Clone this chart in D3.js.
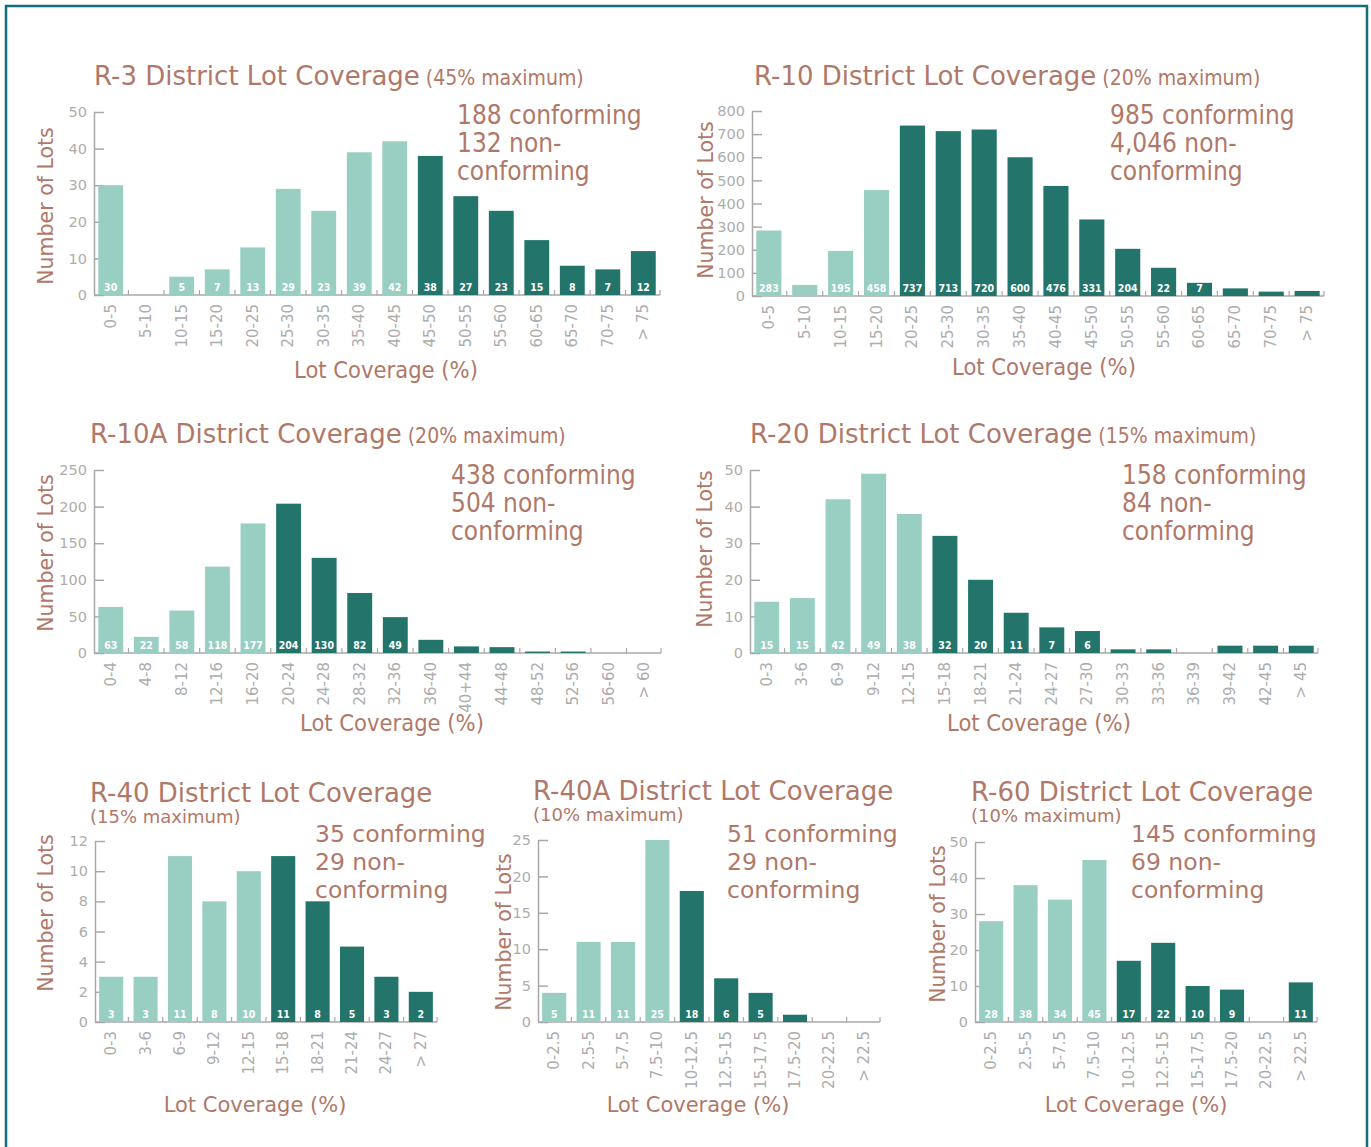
<!DOCTYPE html>
<html>
<head>
<meta charset="utf-8">
<script src="https://cdn.jsdelivr.net/npm/d3@7"></script>
<style>
    body { margin: 0; background: #ffffff; }
    svg { display: block; }
</style>
</head>
<body>
<div id="chart"></div>
<script>
// Kategorier, antal grunde og de små tal i søjlerne
const r3Cats = ["0-5", "5-10", "10-15", "15-20", "20-25", "25-30", "30-35", "35-40", "40-45", "45-50", "50-55", "55-60", "60-65", "65-70", "70-75", "> 75"];
const r3Counts = [30, 0, 5, 7, 13, 29, 23, 39, 42, 38, 27, 23, 15, 8, 7, 12];
const r3Labels = ["30", null, "5", "7", "13", "29", "23", "39", "42", "38", "27", "23", "15", "8", "7", "12"];
const r3Note = ["188 conforming", "132 non-", "conforming"];

const r10Cats = ["0-5", "5-10", "10-15", "15-20", "20-25", "25-30", "30-35", "35-40", "40-45", "45-50", "50-55", "55-60", "60-65", "65-70", "70-75", "> 75"];
const r10Counts = [283, 48, 195, 458, 737, 713, 720, 600, 476, 331, 204, 122, 57, 33, 19, 22];
const r10Labels = ["283", null, "195", "458", "737", "713", "720", "600", "476", "331", "204", "22", "7", null, null, null];
const r10Note = ["985 conforming", "4,046 non-", "conforming"];

const r10aCats = ["0-4", "4-8", "8-12", "12-16", "16-20", "20-24", "24-28", "28-32", "32-36", "36-40", "40+44", "44-48", "48-52", "52-56", "56-60", "> 60"];
const r10aCounts = [63, 22, 58, 118, 177, 204, 130, 82, 49, 18, 9, 8, 2, 2, 0, 0];
const r10aLabels = ["63", "22", "58", "118", "177", "204", "130", "82", "49", null, null, null, null, null, null, null];
const r10aNote = ["438 conforming", "504 non-", "conforming"];

const r20Cats = ["0-3", "3-6", "6-9", "9-12", "12-15", "15-18", "18-21", "21-24", "24-27", "27-30", "30-33", "33-36", "36-39", "39-42", "42-45", "> 45"];
const r20Counts = [14, 15, 42, 49, 38, 32, 20, 11, 7, 6, 1, 1, 0, 2, 2, 2];
const r20Labels = ["15", "15", "42", "49", "38", "32", "20", "11", "7", "6", null, null, null, null, null, null];
const r20Note = ["158 conforming", "84 non-", "conforming"];

const r40Cats = ["0-3", "3-6", "6-9", "9-12", "12-15", "15-18", "18-21", "21-24", "24-27", "> 27"];
const r40Counts = [3, 3, 11, 8, 10, 11, 8, 5, 3, 2];
const r40Labels = ["3", "3", "11", "8", "10", "11", "8", "5", "3", "2"];
const r40Note = ["35 conforming", "29 non-", "conforming"];

const r40aCats = ["0-2.5", "2.5-5", "5-7.5", "7.5-10", "10-12.5", "12.5-15", "15-17.5", "17.5-20", "20-22.5", "> 22.5"];
const r40aCounts = [4, 11, 11, 25, 18, 6, 4, 1, 0, 0];
const r40aLabels = ["5", "11", "11", "25", "18", "6", "5", null, null, null];
const r40aNote = ["51 conforming", "29 non-", "conforming"];

const r60Cats = ["0-2.5", "2.5-5", "5-7.5", "7.5-10", "10-12.5", "12.5-15", "15-17.5", "17.5-20", "20-22.5", "> 22.5"];
const r60Counts = [28, 38, 34, 45, 17, 22, 10, 9, 0, 11];
const r60Labels = ["28", "38", "34", "45", "17", "22", "10", "9", null, "11"];
const r60Note = ["145 conforming", "69 non-", "conforming"];

// Farver og skrifttyper
const titleColor = "#b07868";
const lightBar = "#99cfc2";
const darkBar = "#23756b";
const axisGray = "#a8a8a8";
const tickGray = "#adadad";
const regular = "'DejaVu Sans', Verdana, sans-serif";
const cond = "'DejaVu Sans Condensed', 'DejaVu Sans', sans-serif";

const svg = d3.select("#chart")
    .append("svg")
    .attr("width", 1371)
    .attr("height", 1147);

// ramme rundt om det hele
svg.append("rect")
    .attr("x", 6)
    .attr("y", 6)
    .attr("width", 1361)
    .attr("height", 1170)
    .attr("fill", "none")
    .attr("stroke", "#136d7a")
    .attr("stroke-width", 2.5);

const panels = [
    { title: "R-3 District Lot Coverage", sub: "(45% maximum)", maxPct: 45, cats: r3Cats, counts: r3Counts, labels: r3Labels, note: r3Note,
      left: 94, right: 660, top: 112, bottom: 295, yMax: 50, yStep: 10, titleX: 94, titleY: 85, twoLine: false,
      noteX: 457, noteY: 124, xTitleX: 386, xTitleY: 378, yTitleX: 46, yTitleY: 206, top4: true },
    { title: "R-10 District Lot Coverage", sub: "(20% maximum)", maxPct: 20, cats: r10Cats, counts: r10Counts, labels: r10Labels, note: r10Note,
      left: 752, right: 1324, top: 111, bottom: 296, yMax: 800, yStep: 100, titleX: 754, titleY: 85, twoLine: false,
      noteX: 1110, noteY: 124, xTitleX: 1044, xTitleY: 375, yTitleX: 706, yTitleY: 200, top4: true },
    { title: "R-10A District Coverage", sub: "(20% maximum)", maxPct: 20, cats: r10aCats, counts: r10aCounts, labels: r10aLabels, note: r10aNote,
      left: 94, right: 661, top: 470, bottom: 653, yMax: 250, yStep: 50, titleX: 90, titleY: 443, twoLine: false,
      noteX: 451, noteY: 484, xTitleX: 392, xTitleY: 731, yTitleX: 46, yTitleY: 553, top4: true },
    { title: "R-20 District Lot Coverage", sub: "(15% maximum)", maxPct: 15, cats: r20Cats, counts: r20Counts, labels: r20Labels, note: r20Note,
      left: 750, right: 1318, top: 470, bottom: 653, yMax: 50, yStep: 10, titleX: 750, titleY: 443, twoLine: false,
      noteX: 1122, noteY: 484, xTitleX: 1039, xTitleY: 731, yTitleX: 705, yTitleY: 549, top4: true },
    { title: "R-40 District Lot Coverage", sub: "(15% maximum)", maxPct: 15, cats: r40Cats, counts: r40Counts, labels: r40Labels, note: r40Note,
      left: 95, right: 437, top: 841, bottom: 1022, yMax: 12, yStep: 2, titleX: 90, titleY: 802, twoLine: true,
      noteX: 315, noteY: 842, xTitleX: 255, xTitleY: 1112, yTitleX: 46, yTitleY: 913, top4: false },
    { title: "R-40A District Lot Coverage", sub: "(10% maximum)", maxPct: 10, cats: r40aCats, counts: r40aCounts, labels: r40aLabels, note: r40aNote,
      left: 538, right: 880, top: 840, bottom: 1022, yMax: 25, yStep: 5, titleX: 533, titleY: 800, twoLine: true,
      noteX: 727, noteY: 842, xTitleX: 698, xTitleY: 1112, yTitleX: 504, yTitleY: 932, top4: false },
    { title: "R-60 District Lot Coverage", sub: "(10% maximum)", maxPct: 10, cats: r60Cats, counts: r60Counts, labels: r60Labels, note: r60Note,
      left: 975, right: 1317, top: 842, bottom: 1022, yMax: 50, yStep: 10, titleX: 971, titleY: 801, twoLine: true,
      noteX: 1131, noteY: 842, xTitleX: 1136, xTitleY: 1112, yTitleX: 938, yTitleY: 924, top4: false }
];

function drawPanel(p) {
    const g = svg.append("g");
    const textFont = p.top4 ? cond : regular;

    const xScale = d3.scaleBand()
        .domain(p.cats)
        .range([p.left, p.right])
        .paddingInner(0.3)
        .paddingOuter(0.12);

    const yScale = d3.scaleLinear()
        .domain([0, p.yMax])
        .range([p.bottom, p.top]);

    // y-akse med små streger indad
    const yAxis = d3.axisLeft(yScale)
        .tickValues(d3.range(0, p.yMax + 1, p.yStep))
        .tickSizeInner(-10)
        .tickSizeOuter(0)
        .tickPadding(7);

    const ya = g.append("g")
        .attr("transform", `translate(${p.left},0)`)
        .call(yAxis);
    ya.select(".domain").attr("stroke", axisGray).attr("stroke-width", 1.5);
    ya.selectAll(".tick line").attr("stroke", axisGray).attr("stroke-width", 1.5);
    ya.selectAll(".tick text")
        .attr("fill", tickGray)
        .attr("font-family", regular)
        .attr("font-size", 14.5);

    // x-akse: linje + små streger mellem kategorierne
    g.append("line")
        .attr("x1", p.left).attr("x2", p.right)
        .attr("y1", p.bottom).attr("y2", p.bottom)
        .attr("stroke", axisGray)
        .attr("stroke-width", 1.5);

    const gap = xScale.step() - xScale.bandwidth();
    const bounds = p.cats.slice(1).map(c => xScale(c) - gap / 2).concat([p.right]);
    g.selectAll(".xtick")
        .data(bounds)
        .enter()
        .append("line")
        .attr("class", "xtick")
        .attr("x1", d => d).attr("x2", d => d)
        .attr("y1", p.bottom).attr("y2", p.bottom - 5)
        .attr("stroke", axisGray)
        .attr("stroke-width", 1.2);

    g.selectAll(".xlab")
        .data(p.cats)
        .enter()
        .append("text")
        .attr("class", "xlab")
        .attr("transform", d => `translate(${xScale(d) + xScale.bandwidth() / 2},${p.bottom + 9}) rotate(-90)`)
        .attr("text-anchor", "end")
        .attr("dominant-baseline", "central")
        .attr("fill", tickGray)
        .attr("font-family", regular)
        .attr("font-size", 15)
        .text(d => d);

    // søjlerne - mørke når intervallet ligger over maksimum
    const rows = p.cats.map((c, i) => ({ cat: c, value: p.counts[i], label: p.labels[i] }));
    g.selectAll(".bar")
        .data(rows)
        .enter()
        .append("rect")
        .attr("class", "bar")
        .attr("x", d => xScale(d.cat))
        .attr("y", d => yScale(d.value))
        .attr("width", xScale.bandwidth())
        .attr("height", d => p.bottom - yScale(d.value))
        .attr("fill", d => parseFloat(d.cat.replace(">", "")) >= p.maxPct ? darkBar : lightBar);

    g.selectAll(".barlab")
        .data(rows.filter(d => d.label != null))
        .enter()
        .append("text")
        .attr("class", "barlab")
        .attr("x", d => xScale(d.cat) + xScale.bandwidth() / 2)
        .attr("y", p.bottom - 4)
        .attr("text-anchor", "middle")
        .attr("fill", "white")
        .attr("font-family", cond)
        .attr("font-weight", "bold")
        .attr("font-size", 10.5)
        .text(d => d.label);

    // titel
    const title = g.append("text")
        .attr("x", p.titleX)
        .attr("y", p.titleY)
        .attr("fill", titleColor)
        .attr("font-family", regular);
    title.append("tspan")
        .attr("font-size", 26)
        .text(p.title);
    if (p.twoLine) {
        g.append("text")
            .attr("x", p.titleX)
            .attr("y", p.titleY + 21)
            .attr("fill", titleColor)
            .attr("font-family", regular)
            .attr("font-size", 18)
            .text(p.sub);
    } else {
        title.append("tspan")
            .attr("font-size", 21)
            .attr("font-family", cond)
            .text(" " + p.sub);
    }

    // antal overholdende / ikke-overholdende
    g.selectAll(".note")
        .data(p.note)
        .enter()
        .append("text")
        .attr("class", "note")
        .attr("x", p.noteX)
        .attr("y", (d, i) => p.noteY + i * 28)
        .attr("fill", titleColor)
        .attr("font-family", textFont)
        .attr("font-size", p.top4 ? 26 : 23.5)
        .text(d => d);

    // aksetitler
    g.append("text")
        .attr("x", p.xTitleX)
        .attr("y", p.xTitleY)
        .attr("text-anchor", "middle")
        .attr("fill", titleColor)
        .attr("font-family", textFont)
        .attr("font-size", p.top4 ? 23.5 : 21)
        .text("Lot Coverage (%)");

    g.append("text")
        .attr("transform", `translate(${p.yTitleX},${p.yTitleY}) rotate(-90)`)
        .attr("text-anchor", "middle")
        .attr("dominant-baseline", "central")
        .attr("fill", titleColor)
        .attr("font-family", regular)
        .attr("font-size", 20.5)
        .text("Number of Lots");
}

panels.forEach(drawPanel);
</script>
</body>
</html>
